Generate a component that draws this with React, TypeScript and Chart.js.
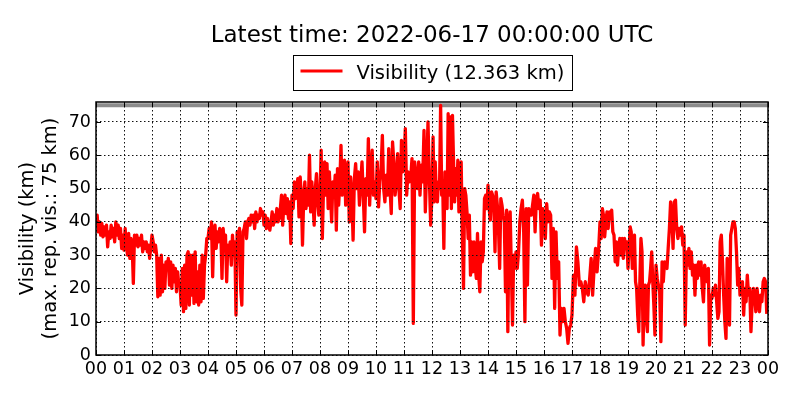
import React, { useEffect, useRef } from "react";
import { Chart, registerables } from "chart.js";

Chart.register(...registerables);

const FONT = '"DejaVu Sans", "Liberation Sans", sans-serif';
const TITLE = "Latest time: 2022-06-17 00:00:00 UTC";
const Y_LABEL = ["Visibility (km)", "(max. rep. vis.: 75 km)"];
const MAX_REP_VIS = 75;
const Y_MIN = 0;
const Y_MAX = 76;
const Y_TICKS = [0, 10, 20, 30, 40, 50, 60, 70];
const HOUR_LABELS = [
  "00", "01", "02", "03", "04", "05", "06", "07", "08", "09", "10", "11",
  "12", "13", "14", "15", "16", "17", "18", "19", "20", "21", "22", "23", "00",
];

// Visibility (km), samples spread evenly inside each UTC hour
const vis00 = [40, 42, 37, 40, 36, 39.5, 35.5, 38.5, 36, 39, 32.5, 37, 35, 39, 35.5, 38, 34, 40, 36, 39, 35, 38, 32, 36];
const vis01 = [31.5, 38, 33, 30, 36.5, 29, 35, 33, 21.5, 36, 33, 36, 32.5, 35, 33, 36, 31, 34, 32, 34, 31, 33, 29, 32.5];
const vis02 = [36, 34, 31, 33, 30, 17.5, 29, 18, 30, 19, 27, 20, 28, 26, 29, 21, 28, 20, 27, 22, 26, 19, 25, 21];
const vis03 = [21, 15, 26, 13, 27, 14, 30, 31, 15, 30, 18, 30, 15.5, 31, 16, 25, 15, 27, 16, 30, 17, 27, 30, 35];
const vis04 = [35, 38, 35, 40, 23.5, 37, 39, 32, 37, 34, 38, 37, 23, 38, 33, 36, 22, 33, 30, 34, 27, 36, 30, 34];
const vis05 = [12, 37, 36, 38, 20, 15, 37, 38, 40, 35, 40, 41, 39, 42, 40, 42, 38, 43, 40, 42, 41, 44, 42, 43];
const vis06 = [39, 42, 38, 41, 39, 37.5, 40, 43, 39, 42, 40, 44, 40, 41, 44, 48, 39, 45, 48, 42.5, 47, 41, 46, 33.5];
const vis07 = [48, 44, 52, 47, 50, 53, 41.5, 53.5, 48, 33, 47, 52, 44, 50, 45, 60, 43, 52, 46, 39, 50, 54.5, 46, 42];
const vis08 = [48, 61.5, 35, 50, 58, 48, 57.5, 44, 55, 48, 40, 52, 48, 54, 37.5, 56, 45, 52, 63, 48, 54, 58.5, 45, 52];
const vis09 = [58, 40, 53.5, 48, 34.5, 53, 57.5, 50, 55, 45, 52, 58, 48, 37, 53, 48, 65, 45, 55, 61.5, 48, 52];
const vis10 = [47, 58, 44.5, 52, 56, 66, 50, 46, 54, 48, 62, 50, 42.5, 64, 58, 48, 52, 60.5, 50, 44, 64.5, 55];
const vis11 = [58, 68, 48, 55, 52, 53, 59, 9.5, 58, 53, 50, 58, 48, 57, 52, 67.5, 43, 56, 70, 53, 39];
const vis12 = [48, 65.5, 46, 58, 48, 46, 52, 50, 75, 48, 50, 32, 55, 50, 44, 72.5, 48, 71.5, 44, 72, 58, 46, 56, 48, 58.5, 43];
const vis13 = [50, 58, 36, 20, 50, 48, 43, 35, 42, 24, 34, 25, 34, 27, 23, 36.5, 24, 19, 34, 28, 31, 47, 48, 44];
const vis14 = [51, 44, 40.5, 49, 48, 45, 31, 49, 45, 38, 26, 47, 45, 42, 40, 19, 43.5, 7, 38, 43, 26, 9, 30, 26];
const vis15 = [31, 26, 31, 40, 44, 46.5, 38, 10, 44, 21, 44, 42, 42, 45, 48, 37, 47, 48.5, 44, 46.5, 33, 44];
const vis16 = [42, 35, 45.5, 40, 43, 42, 23, 38, 14, 37, 23, 28, 6, 14, 10, 14, 10, 8, 3.5, 8, 9];
const vis17 = [12, 24, 18, 32.5, 28, 21, 22, 20, 16, 22, 19, 18, 23, 29, 18, 26, 32, 25, 31];
const vis18 = [40, 35, 44, 42, 35.5, 40, 43, 38, 43, 41, 43.5, 37, 36, 28, 34, 27, 32, 35, 30, 35, 29, 35, 32, 34];
const vis19 = [26, 32, 38.5, 37, 26, 34, 36, 22, 20, 12, 7, 22, 35, 31, 3, 18, 21, 11, 7, 21, 22, 26, 31, 22, 15, 6];
const vis20 = [27, 23, 21, 19, 4, 28, 22, 28, 27, 26, 32, 38, 46, 42, 32, 46, 46.5, 38, 35, 38, 36, 38.5, 33];
const vis21 = [36, 9, 31, 27, 32, 26, 31, 24, 27, 18, 27, 23, 28, 24, 28, 20, 16, 27, 24, 22, 26, 3, 18];
const vis22 = [17, 20, 18, 21, 16, 11, 13, 34, 36, 28, 18, 10, 5, 29, 16, 9, 36, 38, 40, 40, 38, 31, 21, 26];
const vis23 = [18, 21, 22, 12, 20, 16, 24, 18, 20, 7, 16, 20, 18, 13, 20, 16, 13, 18, 16, 22, 23, 22, 12.363];

const HOURLY = [
  vis00, vis01, vis02, vis03, vis04, vis05, vis06, vis07, vis08, vis09, vis10, vis11,
  vis12, vis13, vis14, vis15, vis16, vis17, vis18, vis19, vis20, vis21, vis22, vis23,
];

export default function App() {
  const ref = useRef<HTMLCanvasElement>(null);

  useEffect(() => {
    const canvas = ref.current;
    if (!canvas) return;

    const points = HOURLY.flatMap((vals, h) =>
      vals.map((v, i) => ({ x: h + i / vals.length, y: v }))
    );
    const latest = points[points.length - 1].y;
    const legendText = `Visibility (${latest.toFixed(3)} km)`;
    const xMax = HOUR_LABELS.length - 1;
    const maxLine = [
      { x: 0, y: MAX_REP_VIS },
      { x: xMax, y: MAX_REP_VIS },
    ];

    const decor = {
      id: "decor",
      beforeDraw(chart: any) {
        const { ctx } = chart;
        ctx.save();
        ctx.fillStyle = "#fff";
        ctx.fillRect(0, 0, chart.width, chart.height);
        ctx.restore();
      },
      afterDraw(chart: any) {
        const { ctx, chartArea: a, scales } = chart;
        const xs = scales.x;
        const ys = scales.y;
        const cx = (a.left + a.right) / 2;
        ctx.save();
        ctx.setLineDash([]);
        ctx.strokeStyle = "#000";
        ctx.lineWidth = 1;
        const TL = 5;
        ctx.beginPath();
        HOUR_LABELS.forEach((_, i) => {
          const px = Math.round(xs.getPixelForValue(i)) + 0.5;
          ctx.moveTo(px, a.bottom);
          ctx.lineTo(px, a.bottom - TL);
          ctx.moveTo(px, a.top);
          ctx.lineTo(px, a.top + TL);
        });
        Y_TICKS.forEach((v) => {
          const py = Math.round(ys.getPixelForValue(v)) + 0.5;
          ctx.moveTo(a.left, py);
          ctx.lineTo(a.left + TL, py);
          ctx.moveTo(a.right, py);
          ctx.lineTo(a.right - TL, py);
        });
        ctx.stroke();

        // frame
        ctx.lineWidth = 1.5;
        ctx.strokeRect(a.left, a.top, a.right - a.left, a.bottom - a.top);

        // title
        ctx.fillStyle = "#000";
        ctx.textAlign = "center";
        ctx.textBaseline = "alphabetic";
        ctx.font = `23px ${FONT}`;
        ctx.fillText(TITLE, cx, 42);

        // legend
        ctx.font = `19.5px ${FONT}`;
        const tw = ctx.measureText(legendText).width;
        const bw = Math.round(7 + 42 + 14 + tw + 8);
        const bx = Math.round(cx - bw / 2) + 0.5;
        const by = 55.5;
        const bh = 35;
        ctx.lineWidth = 1;
        ctx.strokeStyle = "#000";
        ctx.strokeRect(bx, by, bw, bh);
        ctx.strokeStyle = "#ff0000";
        ctx.lineWidth = 3;
        ctx.beginPath();
        ctx.moveTo(bx + 7, 71);
        ctx.lineTo(bx + 49, 71);
        ctx.stroke();
        ctx.textAlign = "left";
        ctx.fillText(legendText, bx + 63, 78.5);

        // y label
        const cy = (a.top + a.bottom) / 2;
        ctx.textAlign = "center";
        ctx.textBaseline = "middle";
        ctx.font = `19.5px ${FONT}`;
        [28, 51].forEach((x, i) => {
          ctx.save();
          ctx.translate(x, cy);
          ctx.rotate(-Math.PI / 2);
          ctx.fillText(Y_LABEL[i], 0, 0);
          ctx.restore();
        });
        ctx.restore();
      },
    };

    const chart = new Chart(canvas, {
      type: "line",
      data: {
        datasets: [
          {
            label: legendText,
            data: points,
            borderColor: "#ff0000",
            backgroundColor: "#ff0000",
            borderWidth: 3.3,
            pointRadius: 0,
            tension: 0,
            fill: false,
            borderJoinStyle: "round",
            order: 0,
          },
          {
            label: "max. rep. vis.",
            data: maxLine,
            borderColor: "#8c8c8c",
            borderWidth: 4,
            pointRadius: 0,
            fill: false,
            order: 1,
          },
        ],
      },
      options: {
        animation: false,
        responsive: false,
        devicePixelRatio: 1,
        events: [],
        layout: { padding: { top: 102, right: 32, left: 0, bottom: 0 } },
        plugins: {
          legend: { display: false },
          title: { display: false },
          tooltip: { enabled: false },
        },
        scales: {
          x: {
            type: "linear",
            min: 0,
            max: xMax,
            afterFit: (s: any) => {
              s.height = 45;
            },
            afterBuildTicks: (s: any) => {
              s.ticks = HOUR_LABELS.map((_, i) => ({ value: i }));
            },
            ticks: {
              autoSkip: false,
              maxRotation: 0,
              minRotation: 0,
              padding: 4,
              color: "#000",
              font: { family: FONT, size: 17.5 },
              callback: (v: any) => HOUR_LABELS[Math.round(Number(v))],
            },
            grid: { color: "#111", lineWidth: 1, drawTicks: false, z: 1 },
            border: { display: false, dash: [1.5, 2.5] },
          },
          y: {
            type: "linear",
            min: Y_MIN,
            max: Y_MAX,
            afterFit: (s: any) => {
              s.width = 96;
            },
            afterBuildTicks: (s: any) => {
              s.ticks = Y_TICKS.map((v) => ({ value: v }));
            },
            ticks: {
              padding: 5,
              color: "#000",
              font: { family: FONT, size: 17.5 },
              callback: (v: any) => String(v),
            },
            grid: { color: "#111", lineWidth: 1, drawTicks: false, z: 1 },
            border: { display: false, dash: [1.5, 2.5] },
          },
        },
      },
      plugins: [decor],
    } as any);

    return () => chart.destroy();
  }, []);

  return (
    <div style={{ position: "absolute", left: 0, top: 0, width: 800, height: 400, background: "#fff" }}>
      <canvas ref={ref} width={800} height={400} style={{ display: "block", width: 800, height: 400 }} />
    </div>
  );
}
